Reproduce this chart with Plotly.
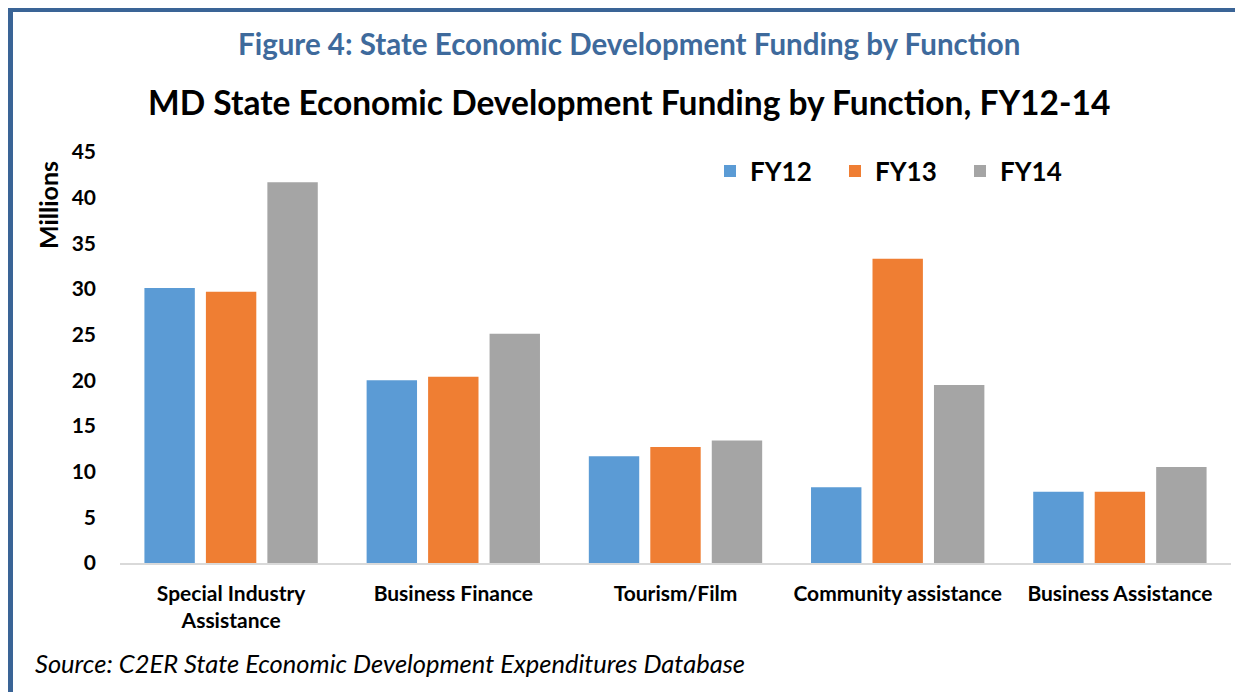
import plotly.graph_objects as go

categories = ["Special Industry<br>Assistance", "Business Finance", "Tourism/Film",
              "Community assistance", "Business Assistance"]
fy12 = [30.1, 20.0, 11.7, 8.3, 7.8]
fy13 = [29.7, 20.4, 12.7, 33.3, 7.8]
fy14 = [41.7, 25.1, 13.4, 19.5, 10.5]
series_names = ["FY12", "FY13", "FY14"]
colors = ["#5B9BD5", "#EF7E33", "#A5A5A5"]

FONT = "Lato, 'Open Sans', sans-serif"

fig = go.Figure()
for name, vals, col in zip(series_names, [fy12, fy13, fy14], colors):
    fig.add_trace(go.Bar(x=categories, y=vals, name=name, marker=dict(color=col, line=dict(width=0))))

OFF = 8  # page body margin
W, H = 1243 - OFF, 692 - OFF
# plot area in window pixels: x 120..1231, y 152..563
L, R, T, B = 120 - OFF, 1243 - 1231, 152 - OFF, 692 - 563
pw, ph = W - L - R, H - T - B

def px_x(px):
    return (px - OFF - L) / pw

def px_y(py):
    return (H - B - (py - OFF)) / ph

border = "#3A6496"
fig.add_shape(type="line", xref="paper", yref="paper", x0=px_x(8), x1=px_x(1260), y0=px_y(9.5), y1=px_y(9.5),
              line=dict(color=border, width=5))
fig.add_shape(type="line", xref="paper", yref="paper", x0=px_x(10.5), x1=px_x(10.5), y0=px_y(7), y1=px_y(710),
              line=dict(color=border, width=5))

fig.add_annotation(xref="paper", yref="paper", x=px_x(629), y=px_y(43), text="<b>Figure 4: State Economic Development Funding by Function</b>",
                   showarrow=False, font=dict(family=FONT, size=29.5, color="#3E6A9C"), xanchor="center", yanchor="middle")
fig.add_annotation(xref="paper", yref="paper", x=px_x(629), y=px_y(102), text="<b>MD State Economic Development Funding by Function, FY12-14</b>",
                   showarrow=False, font=dict(family=FONT, size=33.5, color="#000000"), xanchor="center", yanchor="middle")
fig.add_annotation(xref="paper", yref="paper", x=px_x(48), y=px_y(205), text="<b>Millions</b>", textangle=-90,
                   showarrow=False, font=dict(family=FONT, size=25, color="#000000"), xanchor="center", yanchor="middle")
fig.add_annotation(xref="paper", yref="paper", x=px_x(33), y=px_y(663), text="<i>Source: C2ER State Economic Development Expenditures Database</i>",
                   showarrow=False, font=dict(family=FONT, size=25.5, color="#000000"), xanchor="left", yanchor="middle")

fig.update_layout(
    width=W, height=H,
    margin=dict(l=L, r=R, t=T, b=B, autoexpand=False),
    paper_bgcolor="white", plot_bgcolor="white",
    barmode="group", bargap=0.17, bargroupgap=0.18,
    font=dict(family=FONT, color="#000000"),
    showlegend=True,
    legend=dict(orientation="h", x=px_x(710), y=px_y(171), xanchor="left", yanchor="middle",
                font=dict(family=FONT, size=26, color="#000000", weight="bold"), itemwidth=30,
                entrywidth=80, traceorder="normal", bgcolor="rgba(0,0,0,0)"),
)
fig.update_xaxes(showgrid=False, showline=True, linecolor="#D9D9D9", linewidth=1.5, ticks="",
                 tickfont=dict(family=FONT, size=21, color="#000000", weight="bold"), ticklabelstandoff=11)
fig.update_yaxes(range=[0, 45], dtick=5, showgrid=False, zeroline=False, showline=False, ticks="",
                 tickfont=dict(family=FONT, size=21, color="#000000", weight="bold"), ticklabelstandoff=23)

fig.write_html("out.html")
